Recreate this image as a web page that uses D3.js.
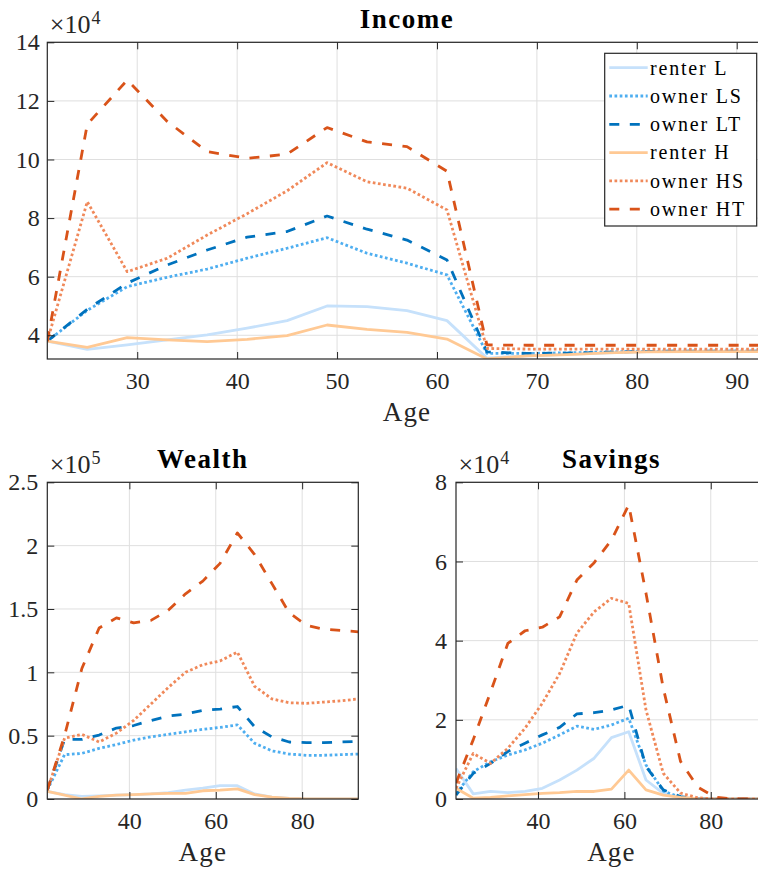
<!DOCTYPE html>
<html>
<head>
<meta charset="utf-8">
<script src="https://cdn.jsdelivr.net/npm/d3@7"></script>
<style>
  html, body { margin: 0; padding: 0; background: #ffffff; }
  svg { display: block; font-family: "Liberation Serif", "Times New Roman", serif; }
</style>
</head>
<body>
<svg id="fig" width="758" height="873"></svg>
<script>
// ---- data -------------------------------------------------------------
const ages = [21, 25, 29, 33, 37, 41, 45, 49, 53, 57, 61, 65, 69, 73, 77, 81, 85, 89, 93];

const seriesNames = ["renter L", "owner LS", "owner LT", "renter H", "owner HS", "owner HT"];

// Income by age
const incomeRenterL = [38000, 35200, 36700, 38400, 40100, 42400, 45000, 50000, 49800, 48400, 45000, 32200, 33000, 33500, 34000, 34400, 34500, 34500, 34500];
const incomeOwnerLS = [38000, 48500, 56600, 59800, 62600, 66300, 69700, 73300, 68000, 64600, 60600, 33800, 33800, 34000, 34300, 34500, 34600, 34600, 34600];
const incomeOwnerLT = [38000, 48900, 57800, 64000, 69100, 73500, 75400, 80700, 76200, 72500, 65700, 34300, 33800, 33900, 34200, 34500, 34600, 34600, 34600];
const incomeRenterH = [38000, 35900, 39200, 38400, 37800, 38600, 39900, 43500, 42000, 41000, 38700, 31900, 33000, 33400, 34000, 34300, 34400, 34400, 34400];
const incomeOwnerHS = [38000, 85600, 61700, 66300, 74200, 81500, 89300, 98900, 92400, 90200, 82800, 35500, 35300, 35300, 35300, 35300, 35300, 35300, 35300];
const incomeOwnerHT = [38000, 112000, 127100, 113000, 102700, 100400, 101800, 110900, 106000, 104400, 96000, 36700, 36600, 36600, 36600, 36600, 36600, 36600, 36600];

// Wealth by age
const wealthRenterL = [6000, 3500, 2000, 2500, 3000, 3500, 4000, 5000, 7000, 8500, 10500, 10500, 4000, 1500, 500, 0, 0, 0, 0];
const wealthOwnerLS = [7000, 35000, 36000, 40000, 43000, 46500, 49000, 51000, 53000, 55000, 56500, 58500, 44000, 38000, 35500, 34500, 34500, 35000, 35500];
const wealthOwnerLT = [7000, 47000, 47000, 50500, 56000, 58000, 62000, 65500, 67000, 70000, 71000, 73000, 57000, 49000, 45000, 44500, 44500, 45000, 45500];
const wealthRenterH = [6000, 3000, 0, 2000, 3000, 3500, 4000, 4500, 4500, 6500, 7000, 8000, 3500, 1500, 500, 0, 0, 0, 0];
const wealthOwnerHS = [7000, 48000, 51000, 45000, 52000, 62000, 75000, 88000, 100000, 106000, 109000, 116000, 89000, 79000, 76000, 75500, 76500, 77500, 79000];
const wealthOwnerHT = [7000, 50000, 103000, 135000, 143000, 139000, 141000, 149000, 162000, 172000, 186000, 210000, 193000, 170000, 147000, 137000, 134000, 133000, 132000];

// Savings by age
const savingsRenterL = [7700, 1300, 1900, 1600, 1900, 2700, 4800, 7300, 10300, 15500, 17000, 4800, 1400, 200, 0, 0, 0, 0, 0];
const savingsOwnerLS = [1400, 6900, 9400, 11100, 12400, 14100, 16200, 18400, 17600, 18700, 20400, 8600, 2000, 400, 0, 0, 0, 0, 0];
const savingsOwnerLT = [1000, 6500, 9000, 12000, 14100, 16200, 18100, 21500, 21800, 22500, 23700, 8200, 2300, 600, 100, 0, 0, 0, 0];
const savingsRenterH = [2700, 200, 400, 800, 1100, 1400, 1600, 1900, 1900, 2500, 7300, 2300, 1000, 400, 100, 0, 0, 0, 0];
const savingsOwnerHS = [2700, 11500, 9000, 12800, 17900, 24200, 31700, 41900, 47300, 50700, 49400, 22500, 6500, 1500, 300, 0, 0, 0, 0];
const savingsOwnerHT = [4000, 15000, 27000, 39300, 42500, 43400, 46000, 55300, 59700, 65400, 74300, 52000, 28000, 9500, 3000, 500, 0, 0, 0];

// Ticks
const incomeXTicks = [30, 40, 50, 60, 70, 80, 90];
const incomeXTickLabels = ["30", "40", "50", "60", "70", "80", "90"];
const incomeYTicks = [40000, 60000, 80000, 100000, 120000, 140000];
const incomeYTickLabels = ["4", "6", "8", "10", "12", "14"];
const lowerXTicks = [40, 60, 80];
const lowerXTickLabels = ["40", "60", "80"];
const wealthYTicks = [0, 50000, 100000, 150000, 200000, 250000];
const wealthYTickLabels = ["0", "0.5", "1", "1.5", "2", "2.5"];
const savingsYTicks = [0, 20000, 40000, 60000, 80000];
const savingsYTickLabels = ["0", "2", "4", "6", "8"];

// ---- styles -----------------------------------------------------------
const seriesColors = ["#c6e1fb", "#4eaef0", "#0072bd", "#ffc994", "#f0895a", "#d95319"];
const seriesDash = [null, "2.7,2.5", "10,10.5", null, "2.7,2.5", "10,10.5"];
const axisColor = "#262626";
const gridColor = "#dfdfdf";
const lineWidth = 2.8;

const svg = d3.select("#fig");

function drawPanel(p) {
  const x = d3.scaleLinear().domain(p.xDomain).range([p.left, p.right]);
  const y = d3.scaleLinear().domain(p.yDomain).range([p.bottom, p.top]);
  const g = svg.append("g");

  const clipId = "clip-" + p.id;
  svg.append("clipPath").attr("id", clipId)
    .append("rect")
    .attr("x", p.left).attr("y", p.top)
    .attr("width", p.right - p.left).attr("height", p.bottom - p.top);

  // grid
  const grid = g.append("g");
  grid.selectAll("line.gx").data(p.xTicks).join("line").attr("class", "gx")
    .attr("x1", d => x(d)).attr("x2", d => x(d))
    .attr("y1", p.top).attr("y2", p.bottom)
    .attr("stroke", gridColor).attr("stroke-width", 1);
  grid.selectAll("line.gy").data(p.yTicks).join("line").attr("class", "gy")
    .attr("x1", p.left).attr("x2", p.right)
    .attr("y1", d => y(d)).attr("y2", d => y(d))
    .attr("stroke", gridColor).attr("stroke-width", 1);

  // series
  const line = d3.line().x((d, i) => x(ages[i])).y(d => y(d));
  g.append("g").attr("clip-path", `url(#${clipId})`)
    .selectAll("path").data(p.series).join("path")
    .attr("d", d => line(d))
    .attr("fill", "none")
    .attr("stroke", (d, i) => seriesColors[i])
    .attr("stroke-width", lineWidth)
    .attr("stroke-linejoin", "round")
    .attr("stroke-dasharray", (d, i) => seriesDash[i]);

  // axes (ticks point inward)
  const styleAxis = sel => {
    sel.select(".domain").remove();
    sel.attr("color", axisColor)
      .attr("font-family", "'Liberation Serif', 'Times New Roman', serif")
      .attr("font-size", 24);
    sel.selectAll(".tick line").attr("stroke-width", 1);
  };
  g.append("g").attr("transform", `translate(0,${p.bottom})`)
    .call(d3.axisBottom(x).tickValues(p.xTicks)
      .tickFormat((d, i) => p.xLabels[i]).tickSizeInner(-7).tickSizeOuter(0).tickPadding(13))
    .call(styleAxis);
  g.append("g").attr("transform", `translate(0,${p.top})`)
    .call(d3.axisTop(x).tickValues(p.xTicks).tickFormat("").tickSizeInner(-7).tickSizeOuter(0))
    .call(styleAxis);
  g.append("g").attr("transform", `translate(${p.left},0)`)
    .call(d3.axisLeft(y).tickValues(p.yTicks)
      .tickFormat((d, i) => p.yLabels[i]).tickSizeInner(-7).tickSizeOuter(0).tickPadding(p.yPad))
    .call(styleAxis);
  g.append("g").attr("transform", `translate(${p.right},0)`)
    .call(d3.axisRight(y).tickValues(p.yTicks).tickFormat("").tickSizeInner(-7).tickSizeOuter(0))
    .call(styleAxis);

  // box
  g.append("rect")
    .attr("x", p.left).attr("y", p.top)
    .attr("width", p.right - p.left).attr("height", p.bottom - p.top)
    .attr("fill", "none").attr("stroke", axisColor).attr("stroke-width", 1.2);

  // exponent
  const ex = g.append("text")
    .attr("x", p.left + 2.5).attr("y", p.top - 9.3)
    .attr("font-size", 26).attr("fill", axisColor);
  ex.append("tspan").text("×10");
  ex.append("tspan").attr("font-size", 18).attr("dy", -9).attr("dx", 1).text(p.exponent);

  // title
  g.append("text")
    .attr("x", (p.left + p.right) / 2).attr("y", p.top - 14)
    .attr("text-anchor", "middle")
    .attr("font-size", 27).attr("font-weight", "bold")
    .attr("letter-spacing", 1.5)
    .attr("fill", "#000")
    .text(p.title);

  // x label
  g.append("text")
    .attr("x", (p.left + p.right) / 2).attr("y", p.bottom + 62)
    .attr("text-anchor", "middle")
    .attr("font-size", 27).attr("letter-spacing", 1.2)
    .attr("fill", axisColor)
    .text("Age");

  return { x, y, g };
}

drawPanel({
  id: "income", title: "Income", exponent: "4",
  left: 47.3, right: 766.7, top: 42.3, bottom: 359,
  xDomain: [21, 93], yDomain: [31900, 140000],
  xTicks: incomeXTicks, xLabels: incomeXTickLabels,
  yTicks: incomeYTicks, yLabels: incomeYTickLabels, yPad: 7.5,
  series: [incomeRenterL, incomeOwnerLS, incomeOwnerLT, incomeRenterH, incomeOwnerHS, incomeOwnerHT]
});

drawPanel({
  id: "wealth", title: "Wealth", exponent: "5",
  left: 47.3, right: 358.3, top: 482.3, bottom: 799,
  xDomain: [21, 93], yDomain: [0, 250000],
  xTicks: lowerXTicks, xLabels: lowerXTickLabels,
  yTicks: wealthYTicks, yLabels: wealthYTickLabels, yPad: 9,
  series: [wealthRenterL, wealthOwnerLS, wealthOwnerLT, wealthRenterH, wealthOwnerHS, wealthOwnerHT]
});

drawPanel({
  id: "savings", title: "Savings", exponent: "4",
  left: 456, right: 766.9, top: 482.3, bottom: 799,
  xDomain: [21, 93], yDomain: [0, 80000],
  xTicks: lowerXTicks, xLabels: lowerXTickLabels,
  yTicks: savingsYTicks, yLabels: savingsYTickLabels, yPad: 9,
  series: [savingsRenterL, savingsOwnerLS, savingsOwnerLT, savingsRenterH, savingsOwnerHS, savingsOwnerHT]
});

// legend for the income panel
const legend = svg.append("g");
const legX = 604.7, legY = 53.3, legW = 152, legH = 172.7, rowH = 28.3, firstRow = 67.7;
legend.append("rect")
  .attr("x", legX).attr("y", legY).attr("width", legW).attr("height", legH)
  .attr("fill", "#ffffff").attr("stroke", axisColor).attr("stroke-width", 1.2);
const rows = legend.selectAll("g.row").data(seriesNames).join("g").attr("class", "row")
  .attr("transform", (d, i) => `translate(0,${firstRow + i * rowH})`);
rows.append("line")
  .attr("x1", 609.3).attr("x2", 647.7).attr("y1", 0).attr("y2", 0)
  .attr("stroke", (d, i) => seriesColors[i])
  .attr("stroke-width", lineWidth)
  .attr("stroke-dasharray", (d, i) => seriesDash[i]);
rows.append("text")
  .attr("x", 650).attr("y", 6.8)
  .attr("font-size", 20).attr("letter-spacing", 1.8)
  .attr("fill", "#000")
  .text(d => d);
</script>
</body>
</html>
